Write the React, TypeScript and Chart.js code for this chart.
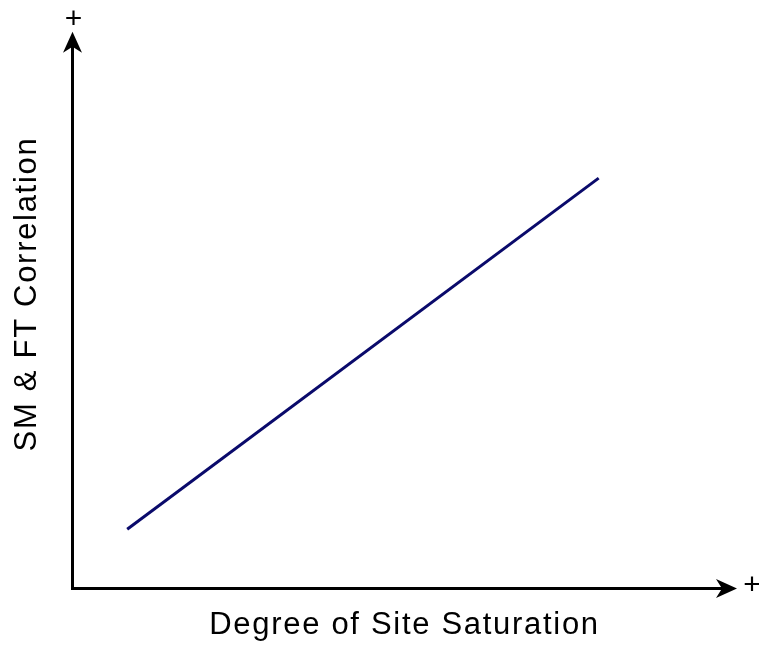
import React, { useEffect, useRef } from "react";
import { Chart, registerables } from "chart.js";

Chart.register(...registerables);

// Data (conceptual axes, 0–100 scale)
const xValues: number[] = [8.3, 79.2];
const yValues: number[] = [10.0, 69.7];
const xAxisTitle = "Degree of Site Saturation";
const yAxisTitle = "SM & FT Correlation";
const axisEndLabel = "+";
const xAxisMax = 100;
const yAxisArrowValue = 94.6;

const FONT = "'Liberation Sans', Arial, sans-serif";

const axesPlugin = {
  id: "arrowAxes",
  beforeDraw(chart: any) {
    (chart.ctx as any).letterSpacing = "1.7px";
  },
  afterDraw(chart: any) {
    const { ctx, chartArea, scales } = chart;
    (ctx as any).letterSpacing = "0px";
    const x0 = chartArea.left;
    const y0 = chartArea.bottom;
    const xTip = scales.x.getPixelForValue(xAxisMax);
    const yTip = scales.y.getPixelForValue(yAxisArrowValue);
    ctx.save();
    ctx.strokeStyle = "#000";
    ctx.fillStyle = "#000";
    ctx.lineWidth = 3;
    ctx.lineCap = "butt";
    ctx.lineJoin = "miter";
    // axes lines
    ctx.beginPath();
    ctx.moveTo(x0 + 0.5, yTip + 14);
    ctx.lineTo(x0 + 0.5, y0 + 0.5);
    ctx.lineTo(xTip - 14, y0 + 0.5);
    ctx.stroke();
    // y arrow
    const ax = x0 + 0.5;
    ctx.beginPath();
    ctx.moveTo(ax, yTip);
    ctx.lineTo(ax - 9.5, yTip + 21);
    ctx.lineTo(ax, yTip + 15);
    ctx.lineTo(ax + 9.5, yTip + 21);
    ctx.closePath();
    ctx.fill();
    // x arrow
    const ay = y0 + 0.5;
    ctx.beginPath();
    ctx.moveTo(xTip, ay);
    ctx.lineTo(xTip - 21, ay - 9.5);
    ctx.lineTo(xTip - 15, ay);
    ctx.lineTo(xTip - 21, ay + 9.5);
    ctx.closePath();
    ctx.fill();
    // plus labels
    ctx.font = `30px ${FONT}`;
    ctx.textAlign = "center";
    ctx.textBaseline = "middle";
    ctx.fillText(axisEndLabel, ax + 1, yTip - 12);
    ctx.fillText(axisEndLabel, xTip + 15, ay - 3);
    ctx.restore();
  },
};

export default function App() {
  const canvasRef = useRef<HTMLCanvasElement | null>(null);

  useEffect(() => {
    if (!canvasRef.current) return;
    const chart = new Chart(canvasRef.current, {
      type: "line",
      data: {
        datasets: [
          {
            data: xValues.map((x, i) => ({ x, y: yValues[i] })),
            borderColor: "#0a0a6b",
            borderWidth: 3,
            pointRadius: 0,
            fill: false,
            tension: 0,
          },
        ],
      },
      options: {
        animation: false,
        responsive: true,
        maintainAspectRatio: false,
        layout: { padding: { top: 0, right: 22, bottom: 0, left: 0 } },
        plugins: { legend: { display: false }, tooltip: { enabled: false } },
        scales: {
          x: {
            type: "linear",
            min: 0,
            max: 100,
            ticks: { display: false },
            grid: { display: false, drawTicks: false },
            border: { display: false },
            title: {
              display: true,
              text: xAxisTitle,
              color: "#000",
              font: { family: FONT, size: 31 },
              padding: { top: 18.4, bottom: 1.4 },
            },
          },
          y: {
            type: "linear",
            min: 0,
            max: 100,
            ticks: { display: false },
            grid: { display: false, drawTicks: false },
            border: { display: false },
            title: {
              display: true,
              text: yAxisTitle,
              color: "#000",
              font: { family: FONT, size: 31 },
              padding: { top: 8.4, bottom: 26.4 },
            },
          },
        },
      },
      plugins: [axesPlugin],
    });
    return () => chart.destroy();
  }, []);

  return (
    <div style={{ position: "fixed", left: 0, top: 0, width: 759, height: 645, background: "#fff" }}>
      <canvas ref={canvasRef} />
    </div>
  );
}
